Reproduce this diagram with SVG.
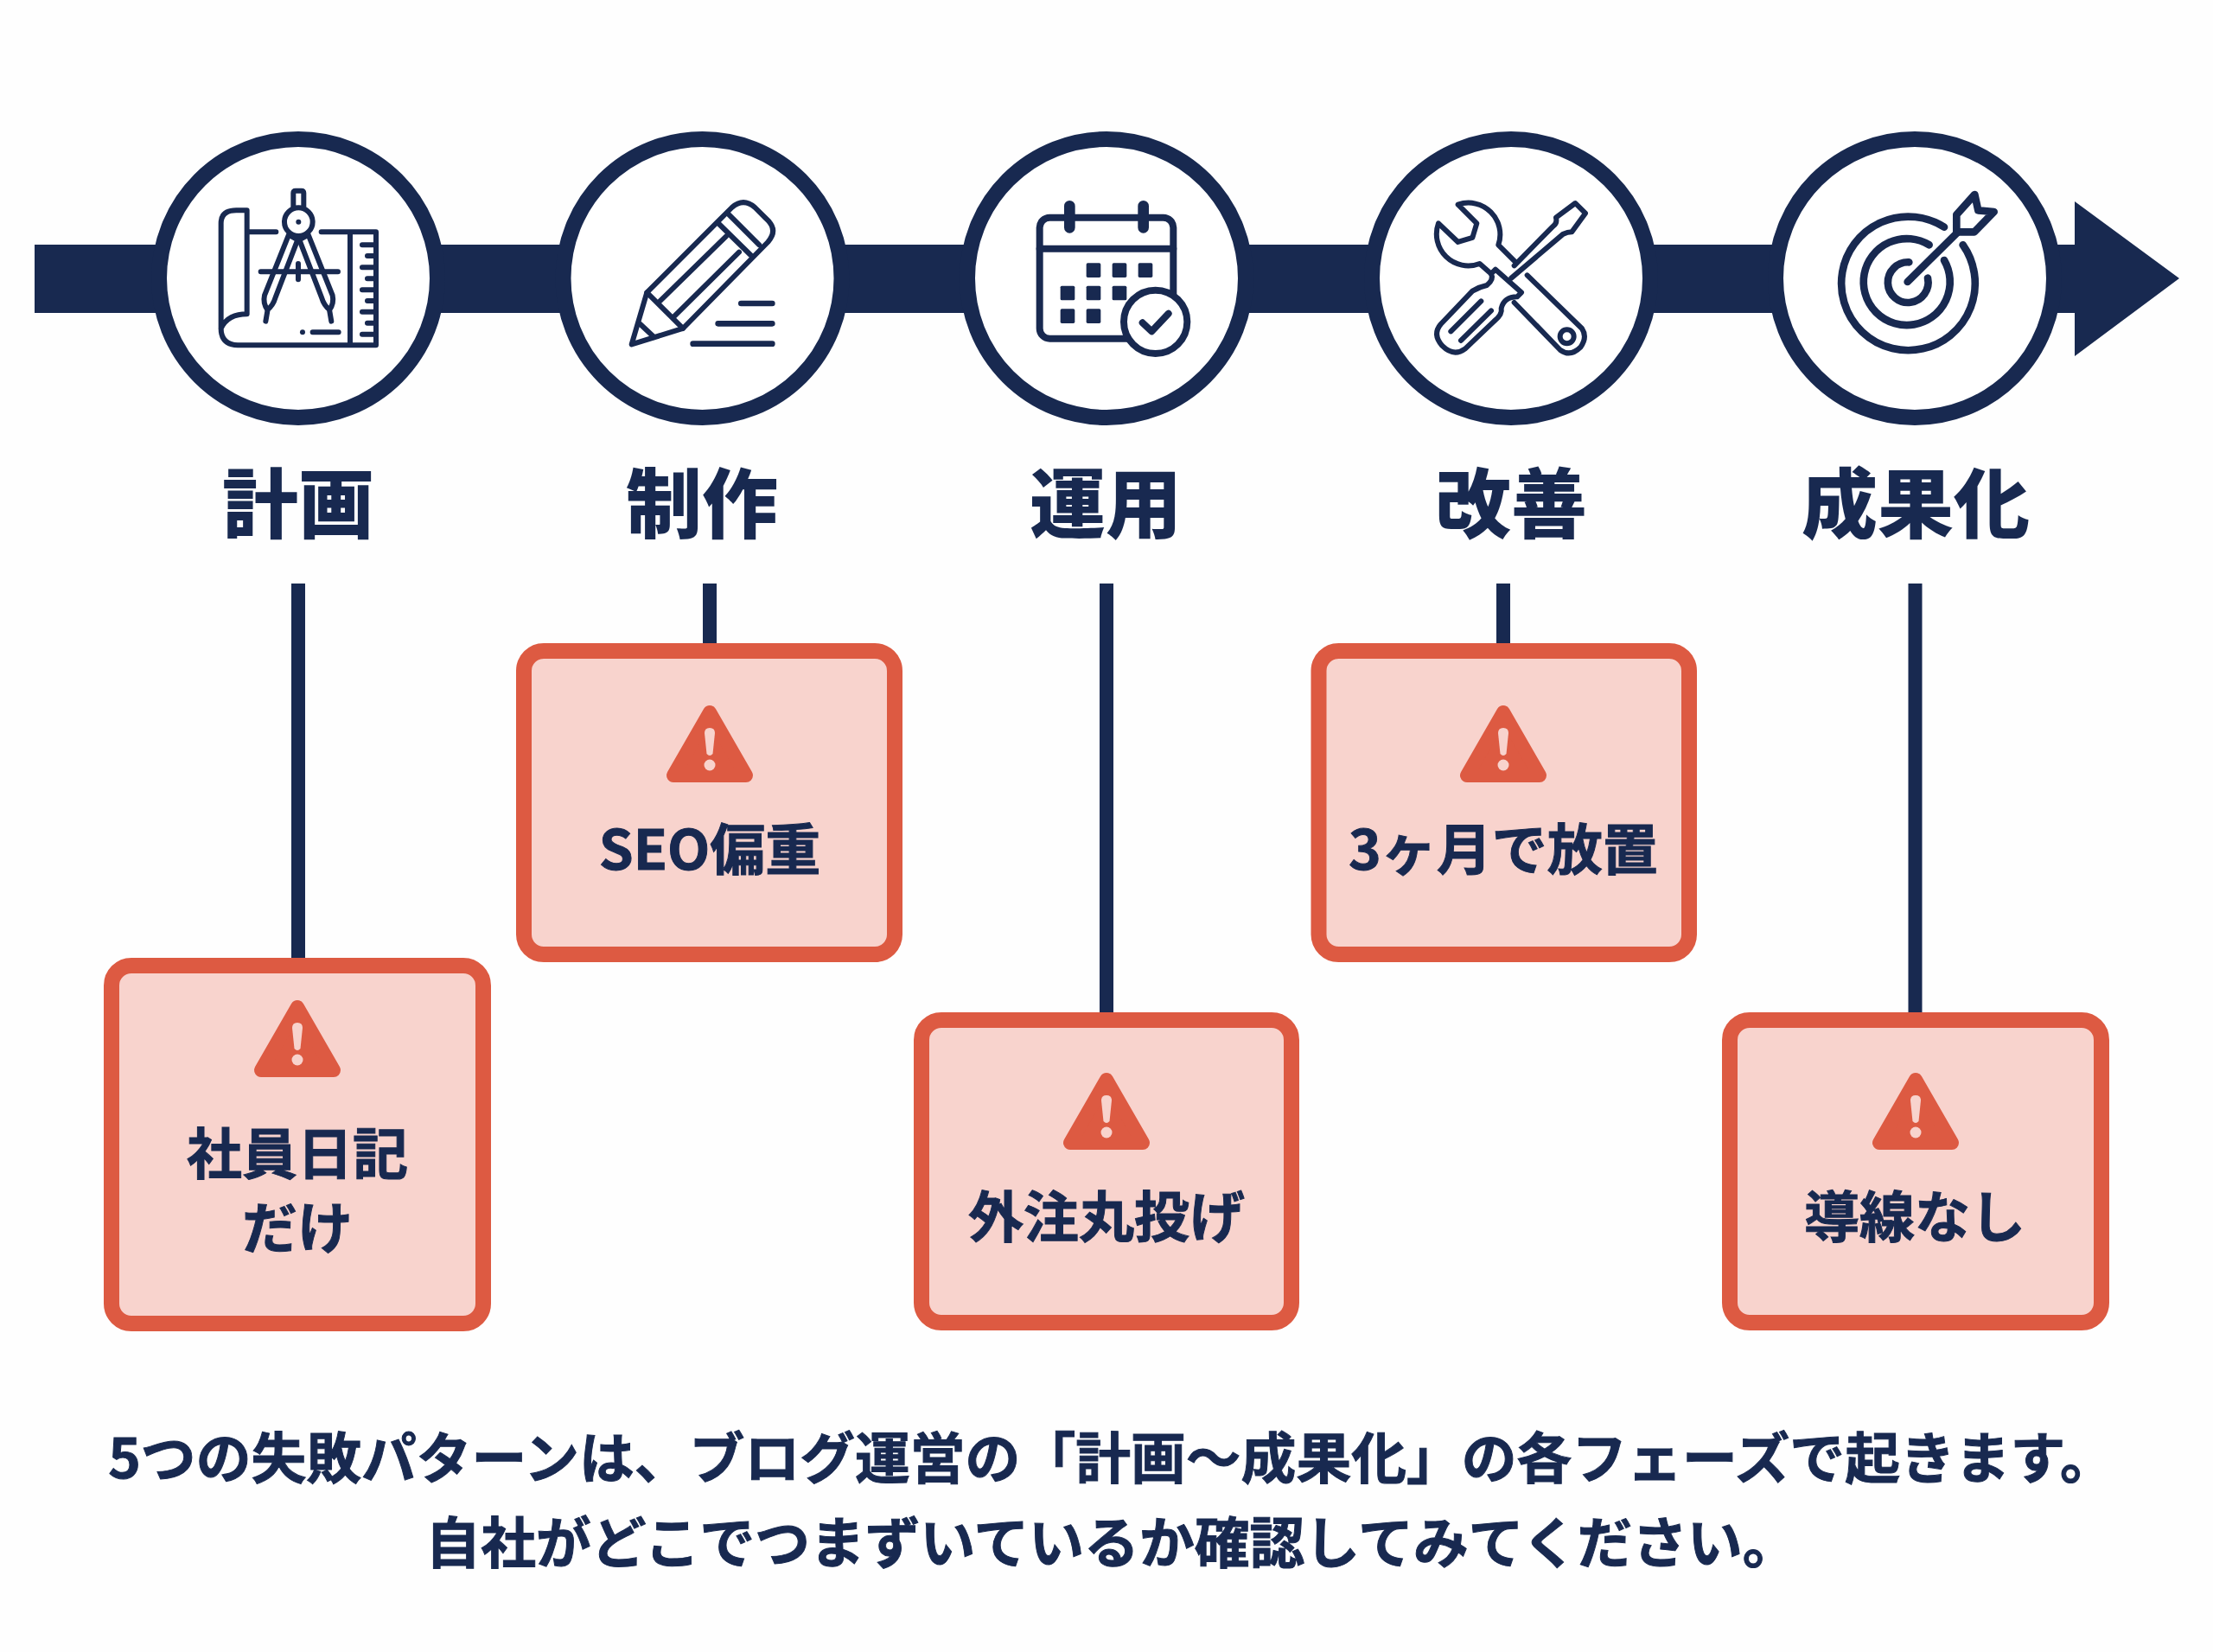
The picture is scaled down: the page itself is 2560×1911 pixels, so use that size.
<svg xmlns="http://www.w3.org/2000/svg" width="2560" height="1911" viewBox="0 0 2560 1911">
<style>
text{font-family:"Noto Sans CJK JP","Noto Sans",sans-serif;font-weight:700;fill:#182950;text-anchor:middle}
.lab{font-size:88px;font-weight:900}
.box{font-size:64px;stroke:#182950;stroke-width:1}
.cap{font-size:63.8px;stroke:#182950;stroke-width:1}
.ring{fill:#fff;stroke:#182950;stroke-width:18}
.card{fill:#f8d3cd;stroke:#dd5a42;stroke-width:18}
.conn{stroke:#182950;stroke-width:16;fill:none}
.ic{fill:none;stroke:#182950;stroke-width:18;stroke-linecap:round;stroke-linejoin:round}
.icw{fill:#fff;stroke:#182950;stroke-width:18;stroke-linecap:round;stroke-linejoin:round}
</style>
<defs>
<g id="warn">
<path d="M0,8 L-42,81 H42 Z" fill="#dd5a42" stroke="#dd5a42" stroke-width="16" stroke-linejoin="round"/>
<path d="M-6,32 Q-6,26 0,26 Q6,26 6,32 L3.5,56 Q0,60 -3.5,56 Z" fill="#f8d3cd"/>
<circle cx="0" cy="69" r="6.5" fill="#f8d3cd"/>
</g>
</defs>
<rect width="2560" height="1911" fill="#fefefe"/>
<g id="connectors">
<path id="timeline" d="M40,283 H2400 V233 L2521,322 L2400,412 V362 H40 Z" fill="#182950"/>
<line class="conn" x1="345" y1="675" x2="345" y2="1110"/>
<line class="conn" x1="821" y1="675" x2="821" y2="746"/>
<line class="conn" x1="1280" y1="675" x2="1280" y2="1173"/>
<line class="conn" x1="1739" y1="675" x2="1739" y2="746"/>
<line class="conn" x1="2215.5" y1="675" x2="2215.5" y2="1173"/>
</g>
<g id="phase-plan">
<circle class="ring" cx="345" cy="322" r="161"/>
<g transform="translate(220,190) scale(.3333)">
<path class="ic" d="M205,235 H298 M455,235 H645 V628 H165 Q107,625 107,570 V205 Q107,160 160,160 H197 V520 Q130,520 107,570 M555,235 V628"/>
<path class="ic" d="M597,280 H640 M615,318 H640 M597,358 H640 M615,397 H640 M597,436 H640 M615,474 H640 M597,512 H640 M615,551 H640 M597,590 H640"/>
<path class="ic" d="M425,583 H515 M245,373 H513 M375,345 V400"/>
<path class="ic" d="M342,245 L258,455 Q252,482 268,505 Q288,490 296,462 L373,262 Z"/>
<path class="ic" d="M410,245 L494,455 Q500,482 484,505 Q464,490 456,462 L379,262 Z"/>
<path class="ic" d="M268,510 L262,545 M484,510 L490,545 M358,155 V100 Q358,92 366,92 H386 Q394,92 394,100 V155"/>
<circle class="icw" cx="376" cy="200" r="49"/>
<circle cx="376" cy="200" r="9" fill="#182950"/>
<circle cx="390" cy="583" r="9" fill="#182950"/>
</g>
<text class="lab" x="345" y="615">計画</text>
</g>
<g id="phase-make">
<circle class="ring" cx="812.5" cy="322" r="161"/>
<g transform="translate(700,210) scale(.3333)">
<path class="ic" d="M92,565 L145,385 L440,90 Q480,55 520,90 L565,135 Q600,170 565,210 L270,510 Z"/>
<path class="ic" d="M430,115 L535,220 M395,147 L505,255 M145,385 L270,510 M122,495 L170,540 M190,415 L420,190 M240,468 L465,245"/>
<path class="ic" style="stroke-width:20" d="M472,423 H580 M392,493 H580 M305,563 H580"/>
</g>
<text class="lab" x="812" y="615">制作</text>
</g>
<g id="phase-run">
<circle class="ring" cx="1280" cy="322" r="161"/>
<g transform="translate(1180,220) scale(.3333)">
<rect class="ic" style="stroke-width:24" x="68" y="95" width="464" height="420" rx="35"/>
<path class="ic" style="stroke-width:24" d="M68,203 H532"/>
<path class="ic" style="stroke-width:38" d="M172,55 V130 M428,55 V130"/>
<g fill="#182950">
<rect x="230" y="253" width="50" height="50" rx="5"/><rect x="320" y="253" width="50" height="50" rx="5"/><rect x="410" y="253" width="50" height="50" rx="5"/>
<rect x="140" y="332" width="50" height="50" rx="5"/><rect x="230" y="332" width="50" height="50" rx="5"/><rect x="320" y="332" width="50" height="50" rx="5"/>
<rect x="140" y="412" width="50" height="50" rx="5"/><rect x="230" y="412" width="50" height="50" rx="5"/>
</g>
<circle class="icw" style="stroke-width:24" cx="470" cy="457" r="110"/>
<path class="ic" style="stroke-width:24" d="M425,460 L457,490 L515,428"/>
</g>
<text class="lab" x="1279" y="615">運用</text>
</g>
<g id="phase-improve">
<circle class="ring" cx="1748" cy="322" r="161"/>
<g transform="translate(1640,200) scale(.3333)">
<path class="ic" d="M140,110 A110,110 0 0 1 280,250 L340,310 M380,355 L570,540 Q590,570 565,605 Q530,640 495,615 L335,450 M255,350 L215,315 A110,110 0 0 1 72,175 L140,240 L190,225 L205,175 L140,110"/>
<path class="ic" d="M335,322 L470,185 Q485,175 480,155 L547,105 L582,140 L535,205 Q520,205 505,212 L325,365"/>
<path class="ic" d="M270,335 L360,415 L345,430 Q300,430 290,470 Q295,490 265,515 L165,610 Q125,640 85,600 Q50,560 80,525 L190,410 Q215,395 240,390 Q265,370 255,350 Z"/>
<path class="ic" d="M115,550 L220,445 M150,582 L255,478"/>
<circle class="ic" cx="518" cy="568" r="24"/>
</g>
<text class="lab" x="1748" y="615">改善</text>
</g>
<g id="phase-result">
<circle class="ring" cx="2215" cy="322" r="161"/>
<g transform="translate(2100,200) scale(.3333)">
<g class="ic" style="stroke-width:26">
<path d="M447,188 A232,232 0 1 0 512,250"/>
<path d="M395,250 A150,150 0 1 0 447,303"/>
<path d="M325,310 A70,70 0 1 0 390,365"/>
<path d="M320,378 L490,210"/>
<path d="M490,145 L553,75 L565,130 L620,135 L552,205 H490 Z"/>
</g>
</g>
<text class="lab" x="2216" y="615">成果化</text>
</g>
<g id="issue-1">
<rect class="card" x="129" y="1117" width="430" height="414" rx="23"/>
<use href="#warn" transform="translate(344,1157)"/>
<text class="box" x="344" y="1358">社員日記</text>
<text class="box" x="344" y="1444">だけ</text>
</g>
<g id="issue-2">
<rect class="card" x="606" y="753" width="429" height="351" rx="23"/>
<use href="#warn" transform="translate(821,816)"/>
<text class="box" x="821" y="1006">SEO偏重</text>
</g>
<g id="issue-3">
<rect class="card" x="1066" y="1180" width="428" height="350" rx="23"/>
<use href="#warn" transform="translate(1280,1241)"/>
<text class="box" x="1280" y="1431">外注丸投げ</text>
</g>
<g id="issue-4">
<rect class="card" x="1525.5" y="753" width="428.5" height="351" rx="23"/>
<use href="#warn" transform="translate(1739,816)"/>
<text class="box" x="1739" y="1006">3ヶ月で放置</text>
</g>
<g id="issue-5">
<rect class="card" x="2001" y="1180" width="430" height="350" rx="23"/>
<use href="#warn" transform="translate(2216,1241)"/>
<text class="box" x="2215" y="1431">導線なし</text>
</g>
<g id="caption">
<text class="cap" x="1286" y="1710">5つの失敗パターンは、ブログ運営の「計画～成果化」の各フェーズで起きます。</text>
<text class="cap" x="1286" y="1808">自社がどこでつまずいているか確認してみてください。</text>
</g>
</svg>
